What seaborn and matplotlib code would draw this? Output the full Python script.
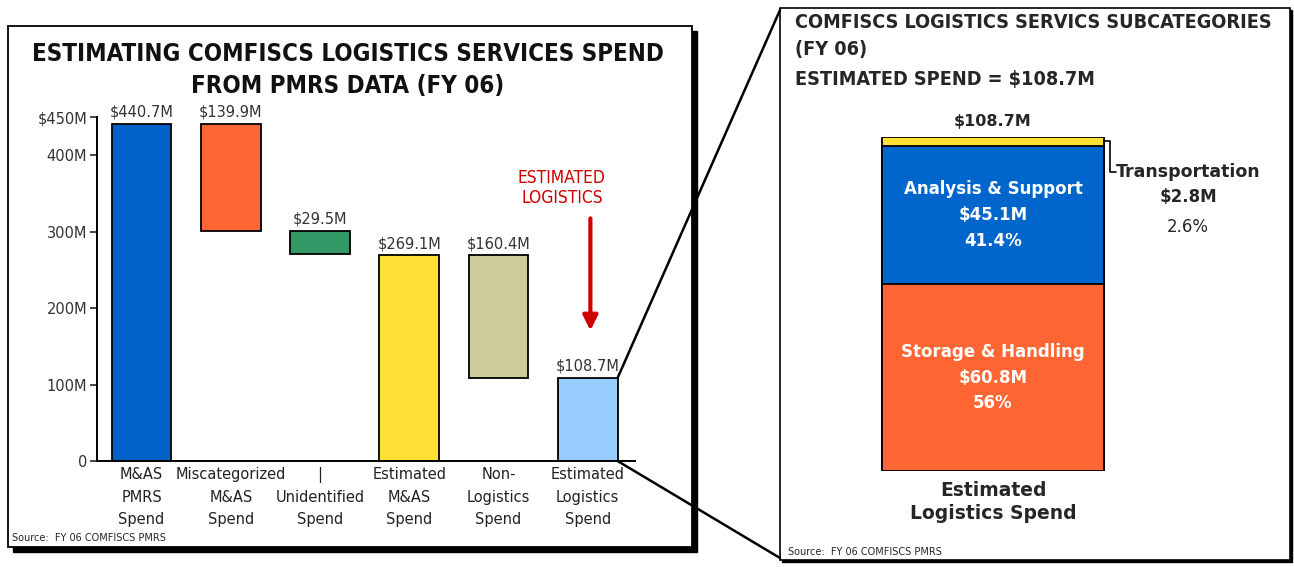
import numpy as np
import pandas as pd
import matplotlib
matplotlib.use("Agg")
import matplotlib.pyplot as plt
import seaborn as sns
from matplotlib import font_manager as fm
from matplotlib.patches import Rectangle, ConnectionPatch

# ---- data ----
categories = ["M&AS PMRS Spend", "Miscategorized M&AS Spend", "Unidentified Spend",
              "Estimated M&AS Spend", "Non-Logistics Spend", "Estimated Logistics Spend"]
tick_labels = ["M&AS\nPMRS\nSpend", "Miscategorized\nM&AS\nSpend", "|\nUnidentified\nSpend",
               "Estimated\nM&AS\nSpend", "Non-\nLogistics\nSpend", "Estimated\nLogistics\nSpend"]
amounts = [440.7, 139.9, 29.5, 269.1, 160.4, 108.7]
bar_tops = [440.7, 440.7, 300.8, 269.1, 269.1, 108.7]
bar_bottoms = [0, 300.8, 271.3, 0, 108.7, 0]
bar_colors = ["#0062C8", "#FF6633", "#339966", "#FFE135", "#CCCC99", "#99CCFF"]
y_ticks = [0, 100, 200, 300, 400, 450]
y_tick_labels = ["0", "100M", "200M", "300M", "400M", "$450M"]

sub_names = ["Storage & Handling", "Analysis & Support", "Transportation"]
sub_values = [60.8, 45.1, 2.8]
sub_pct = ["56%", "41.4%", "2.6%"]
sub_colors = ["#FF6633", "#0066CC", "#FFE135"]
sub_total = 108.7

W, H = 1294, 567

sns.set_theme(style="white")
plt.rcParams["font.family"] = ["DejaVu Sans"]

# look for a condensed / narrow face for the headline texts
cond_bold, cond_reg = None, None
for f in fm.fontManager.ttflist:
    n = (f.name + " " + f.fname).lower()
    if "condensed" in n or "narrow" in n:
        if f.weight in ("bold", 700) and cond_bold is None and "italic" not in n and "oblique" not in n:
            cond_bold = f.fname
        if f.weight in ("normal", "regular", 400) and cond_reg is None and "italic" not in n and "oblique" not in n:
            cond_reg = f.fname
if cond_bold:
    head = dict(fontproperties=fm.FontProperties(fname=cond_bold))
    scale = 1.0
else:
    head = dict(fontweight="bold")
    scale = 0.8
red_font = dict(fontproperties=fm.FontProperties(fname=cond_reg)) if cond_reg else {}

fig = plt.figure(figsize=(W / 100, H / 100), dpi=100)
fig.patch.set_facecolor("white")


def fx(px):
    return px / W


def fy(py):
    return 1 - py / H


# ---- panel boxes ----
fig.add_artist(Rectangle((fx(13), fy(552)), fx(684), (547 - 26) / H, transform=fig.transFigure,
                         facecolor="black", edgecolor="black", zorder=-3))
fig.add_artist(Rectangle((fx(8), fy(547)), fx(684), (547 - 26) / H, transform=fig.transFigure,
                         facecolor="white", edgecolor="black", lw=1.3, zorder=-2))
fig.add_artist(Rectangle((fx(782), fy(562)), fx(510), (560 - 8) / H, transform=fig.transFigure,
                         facecolor="black", edgecolor="black", zorder=-3))
fig.add_artist(Rectangle((fx(780), fy(560)), fx(510), (560 - 8) / H, transform=fig.transFigure,
                         facecolor="white", edgecolor="black", lw=1.2, zorder=-2))

# ---- left: waterfall ----
ax = fig.add_axes([fx(97), fy(461), fx(635 - 97), (461 - 117) / H])
ax.set_facecolor("none")
df = pd.DataFrame({"category": categories, "top": bar_tops})
sns.barplot(data=df, x="category", y="top", hue="category", palette=bar_colors,
            saturation=1, width=0.67, edgecolor="black", linewidth=1.3, errorbar=None,
            legend=False, ax=ax)
for patch, b, t in zip(ax.patches, bar_bottoms, bar_tops):
    patch.set_y(b)
    patch.set_height(t - b)

for i, (a, t) in enumerate(zip(amounts, bar_tops)):
    ax.annotate(f"${a:.1f}M", (i, t), xytext=(0, 3), textcoords="offset points",
                ha="center", va="bottom", fontsize=10.5, color="#333333")

ax.set_xlim(-0.5, 5.53)
ax.set_ylim(0, 450)
ax.set_xticks(range(len(categories)))
ax.set_xticklabels([""] * len(categories))
# category labels, one line at a time
for i, lab in enumerate(tick_labels):
    for j, line in enumerate(lab.split("\n")):
        ax.annotate(line, (i, 0), xycoords=("data", "axes fraction"),
                    xytext=(0, -10 - j * 16), textcoords="offset points",
                    ha="center", va="center", fontsize=10.5, color="#222222")
ax.set_yticks(y_ticks)
ax.set_yticklabels(y_tick_labels, fontsize=10.5, color="#333333")
ax.set_xlabel("")
ax.set_ylabel("")
ax.tick_params(axis="y", direction="out", length=5, width=1.2, pad=2, left=True)
ax.tick_params(axis="x", length=0)
for s in ["top", "right"]:
    ax.spines[s].set_visible(False)
for s in ["left", "bottom"]:
    ax.spines[s].set_color("black")
    ax.spines[s].set_linewidth(1.4)

ax.text(4.71, 357, "ESTIMATED\nLOGISTICS", ha="center", va="center", color="#CC0000",
        fontsize=12.5 if cond_reg else 10.5, linespacing=1.15, **red_font)
ax.annotate("", xy=(5.03, 167), xytext=(5.03, 321),
            arrowprops=dict(arrowstyle="-|>", color="#CC0000", lw=3, mutation_scale=22))

fig.text(fx(348), fy(70), "ESTIMATING COMFISCS LOGISTICS SERVICES SPEND\nFROM PMRS DATA (FY 06)",
         ha="center", va="center", fontsize=17.3 * scale, linespacing=1.4,
         color="#111111", **head)
fig.text(fx(12), fy(538), "Source:  FY 06 COMFISCS PMRS", fontsize=7, va="center")

# ---- right: stacked subcategories ----
ax2 = fig.add_axes([fx(870), fy(471), fx(246), (471 - 137) / H])
ax2.set_facecolor("none")
tops = np.cumsum(sub_values)
for top, c in sorted(zip(tops, sub_colors), reverse=True):
    sns.barplot(x=["Estimated Logistics Spend"], y=[top], color=c, saturation=1, width=0.9,
                edgecolor="black", linewidth=1.3, errorbar=None, ax=ax2)
ax2.set_xlim(-0.5, 0.5)
ax2.set_ylim(0, sub_total)
ax2.axis("off")

bottoms = tops - np.array(sub_values)
for name, v, p, b in zip(sub_names[:2], sub_values[:2], sub_pct[:2], bottoms[:2]):
    ax2.text(0, b + v / 2, f"{name}\n${v}M\n{p}", ha="center", va="center", color="white",
             fontsize=12, fontweight="bold", linespacing=1.55)

ax2.plot([0.45, 0.475, 0.475, 0.5], [107.4, 107.4, 97.3, 97.3], color="black", lw=1.2,
         clip_on=False)
ax2.text(0.5, 97.3, sub_names[2], ha="left", va="center", fontsize=12.5, fontweight="bold")
ax2.text(0.793, 89.2, f"${sub_values[2]}M", ha="center", va="center", fontsize=12,
         fontweight="bold")
ax2.text(0.793, 79.4, sub_pct[2], ha="center", va="center", fontsize=12)

ax2.annotate(f"${sub_total}M", (0, sub_total), xytext=(0, 6), textcoords="offset points",
             ha="center", va="bottom", fontsize=11.5, fontweight="bold")
ax2.annotate("Estimated\nLogistics Spend", (0, 0), xytext=(0, -7), textcoords="offset points",
             ha="center", va="top", fontsize=13.5, fontweight="bold", linespacing=1.3)

rsize = 14.2 * scale
fig.text(fx(795), fy(22), "COMFISCS LOGISTICS SERVICS SUBCATEGORIES", fontsize=rsize,
         va="center", **head)
fig.text(fx(795), fy(50), "(FY 06)", fontsize=rsize, va="center", **head)
fig.text(fx(795), fy(80), f"ESTIMATED SPEND = ${sub_total}M", fontsize=rsize,
         va="center", **head)
fig.text(fx(788), fy(552), "Source:  FY 06 COMFISCS PMRS", fontsize=7, va="center")

# ---- connector lines ----
for yA, yB in [(sub_total, 10), (0, 558)]:
    con = ConnectionPatch(xyA=(5.335, yA), coordsA=ax.transData,
                          xyB=(fx(780), fy(yB)), coordsB=fig.transFigure,
                          color="black", lw=1.8)
    fig.add_artist(con)

fig.savefig("out.png", dpi=100, facecolor="white")
